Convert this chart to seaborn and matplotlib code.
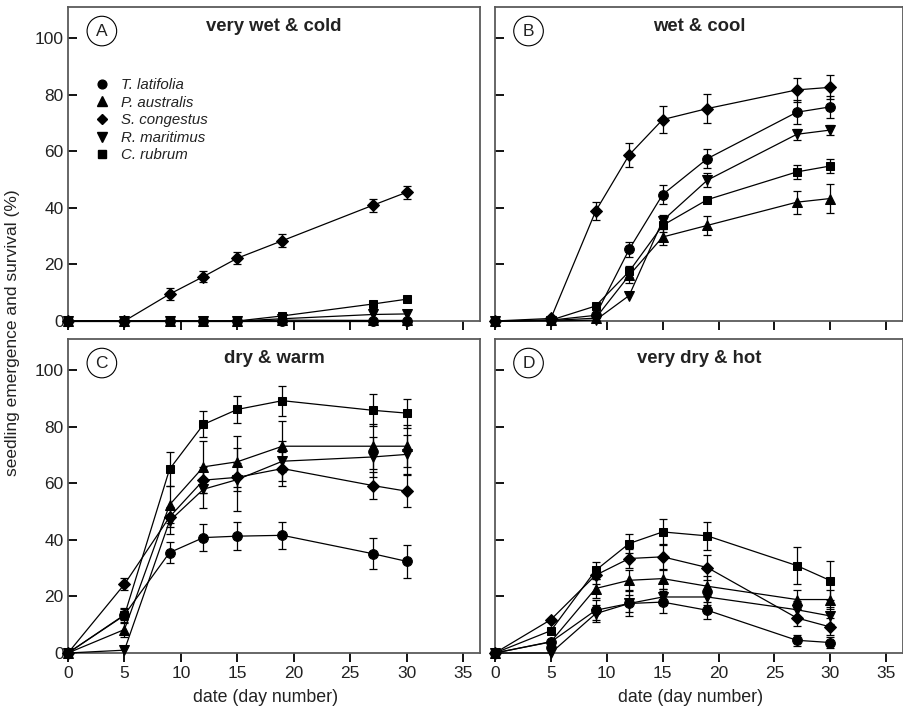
import numpy as np
import pandas as pd
import matplotlib
matplotlib.use("Agg")
import matplotlib.pyplot as plt
import seaborn as sns
from matplotlib import font_manager
from matplotlib.lines import Line2D

sns.set_theme(style="white")
plt.rcParams['font.family'] = ['Liberation Sans', 'DejaVu Sans']

names = {f.name for f in font_manager.fontManager.ttflist}
TICK_FONT = 'Liberation Sans Narrow' if 'Liberation Sans Narrow' in names else 'Liberation Sans'

# ---------------- data ----------------
days = [0, 5, 9, 12, 15, 19, 27, 30]
species = ["T. latifolia", "P. australis", "S. congestus", "R. maritimus", "C. rubrum"]
panel_letters = ["A", "B", "C", "D"]
panel_titles = ["very wet & cold", "wet & cool", "dry & warm", "very dry & hot"]
x_ticks = [0, 5, 10, 15, 20, 25, 30, 35]
y_ticks = [0, 20, 40, 60, 80, 100]

# panel A: very wet & cold
A_latifolia = [0, 0, 0, 0, 0, 0, 0, 0]
A_australis = [0, 0, 0, 0, 0, 0.3, 0.2, 0.2]
A_congestus = [0, 0, 9.5, 15.7, 22.2, 28.4, 40.9, 45.5]
A_maritimus = [0, 0, 0, 0, 0, 0.8, 2.3, 2.5]
A_rubrum = [0, 0, 0, 0, 0, 1.8, 6.0, 7.7]
A_latifolia_err = [0, 0, 0, 0, 0, 0, 0, 0]
A_australis_err = [0, 0, 0, 0, 0, 0, 0, 0]
A_congestus_err = [0, 0, 2.0, 2.0, 2.2, 2.3, 2.4, 2.3]
A_maritimus_err = [0, 0, 0, 0, 0, 0, 0, 0]
A_rubrum_err = [0, 0, 0, 0, 0, 0, 0.6, 0.6]

# panel B: wet & cool
B_latifolia = [0, 0.3, 2.0, 25.3, 44.7, 57.4, 73.8, 75.7]
B_australis = [0, 0.2, 1.0, 16.1, 29.7, 33.8, 42.0, 43.3]
B_congestus = [0, 0.9, 38.8, 58.7, 71.2, 75.1, 81.7, 82.6]
B_maritimus = [0, 0, 0.3, 9.0, 35.5, 49.8, 66.0, 67.5]
B_rubrum = [0, 0.3, 5.3, 17.5, 33.8, 42.9, 52.7, 54.8]
B_latifolia_err = [0, 0, 0, 2.8, 3.5, 3.3, 4.3, 4.0]
B_australis_err = [0, 0, 0, 2.5, 2.8, 3.3, 4.0, 5.1]
B_congestus_err = [0, 0, 3.1, 4.3, 4.8, 5.1, 4.3, 4.2]
B_maritimus_err = [0, 0, 0, 0, 1.9, 2.5, 2.0, 1.7]
B_rubrum_err = [0, 0, 0, 2.0, 2.5, 0, 2.5, 2.4]

# panel C: dry & warm
C_latifolia = [0, 13.5, 35.5, 40.8, 41.3, 41.6, 35.1, 32.4]
C_australis = [0, 8.3, 52.4, 65.8, 67.6, 73.1, 73.1, 73.1]
C_congestus = [0, 24.3, 48.1, 61.1, 62.1, 65.2, 59.2, 57.2]
C_maritimus = [0, 1.0, 46.7, 57.9, 61.3, 67.8, 69.3, 70.2]
C_rubrum = [0, 13.3, 65.0, 80.8, 86.1, 89.2, 85.8, 84.8]
C_latifolia_err = [0, 2.0, 3.8, 4.7, 5.0, 4.7, 5.4, 5.8]
C_australis_err = [0, 2.8, 6.5, 9.2, 9.0, 9.0, 8.0, 7.5]
C_congestus_err = [0, 2.1, 3.5, 4.5, 5.0, 6.0, 4.9, 5.6]
C_maritimus_err = [0, 0, 4.5, 6.8, 11.0, 7.0, 7.0, 7.0]
C_rubrum_err = [0, 2.6, 6.1, 4.6, 4.9, 5.3, 5.6, 5.1]

# panel D: very dry & hot
D_latifolia = [0, 3.9, 15.1, 17.5, 18.0, 15.1, 4.5, 3.7]
D_australis = [0, 4.0, 22.8, 25.7, 26.3, 23.6, 18.9, 18.9]
D_congestus = [0, 11.8, 27.5, 33.4, 34.0, 30.2, 12.4, 9.2]
D_maritimus = [0, 0, 13.9, 17.5, 19.8, 19.8, 15.3, 13.1]
D_rubrum = [0, 7.9, 29.2, 38.7, 42.8, 41.4, 30.9, 25.6]
D_latifolia_err = [0, 0, 3.5, 4.5, 4.0, 3.0, 2.0, 2.0]
D_australis_err = [0, 0, 3.5, 3.5, 3.5, 3.5, 3.5, 3.5]
D_congestus_err = [0, 0, 3.0, 3.5, 4.5, 4.5, 3.0, 3.0]
D_maritimus_err = [0, 0, 3.0, 3.0, 3.0, 3.0, 3.0, 3.0]
D_rubrum_err = [0, 0, 3.0, 3.5, 4.7, 5.0, 6.5, 7.0]

panels = {
    "A": ([A_latifolia, A_australis, A_congestus, A_maritimus, A_rubrum],
          [A_latifolia_err, A_australis_err, A_congestus_err, A_maritimus_err, A_rubrum_err]),
    "B": ([B_latifolia, B_australis, B_congestus, B_maritimus, B_rubrum],
          [B_latifolia_err, B_australis_err, B_congestus_err, B_maritimus_err, B_rubrum_err]),
    "C": ([C_latifolia, C_australis, C_congestus, C_maritimus, C_rubrum],
          [C_latifolia_err, C_australis_err, C_congestus_err, C_maritimus_err, C_rubrum_err]),
    "D": ([D_latifolia, D_australis, D_congestus, D_maritimus, D_rubrum],
          [D_latifolia_err, D_australis_err, D_congestus_err, D_maritimus_err, D_rubrum_err]),
}

markers = {"T. latifolia": "o", "P. australis": "^", "S. congestus": "D",
           "R. maritimus": "v", "C. rubrum": "s"}
msizes = {"T. latifolia": 7, "P. australis": 7.5, "S. congestus": 6, "R. maritimus": 7.5, "C. rubrum": 6.2}

# ---------------- figure ----------------
W, H = 904, 710
fig = plt.figure(figsize=(W / 100, H / 100), dpi=100)
fig.patch.set_facecolor("white")

def frac(l, t, r, b):
    return [l / W, 1 - b / H, (r - l) / W, (b - t) / H]

positions = {
    "A": frac(68, 7, 480, 321),
    "B": frac(495, 7, 903, 321),
    "C": frac(68, 339, 480, 653),
    "D": frac(495, 339, 903, 653),
}

spine_col = "#5a5a5a"

for i, key in enumerate(panel_letters):
    ax = fig.add_axes(positions[key])
    vals, errs = panels[key]
    rows = []
    for sp, v in zip(species, vals):
        for d, y in zip(days, v):
            rows.append({"day": d, "value": y, "species": sp})
    df = pd.DataFrame(rows)

    # error bars first (below markers)
    for sp, v, e in zip(species, vals, errs):
        v = np.array(v, float); e = np.array(e, float); d = np.array(days, float)
        m = e > 0
        if m.any():
            ax.errorbar(d[m], v[m], yerr=e[m], fmt="none", ecolor="black",
                        elinewidth=0.9, capsize=3.2, capthick=0.9, zorder=2)

    for sp in species:
        sub = df[df.species == sp]
        sns.lineplot(data=sub, x="day", y="value", ax=ax, color="black",
                     marker=markers[sp], markersize=msizes[sp], linewidth=0.9,
                     markeredgecolor="black", markerfacecolor="black",
                     estimator=None, sort=False, legend=False, zorder=3)

    for ln in ax.lines:
        ln.set_clip_on(False)
    for c in ax.collections:
        c.set_clip_on(False)

    ax.set_xlim(0, 36.5)
    ax.set_ylim(0, 111)
    ax.set_xticks(x_ticks)
    ax.set_yticks(y_ticks)
    ax.set_xlabel("")
    ax.set_ylabel("")
    ax.tick_params(axis="y", direction="in", length=6.5, width=1.3, color="black",
                   left=True, labelsize=12.5, pad=3)
    ax.tick_params(axis="x", direction="out", length=6.5, width=1.3, color="black",
                   bottom=True, labelsize=12.5, pad=3)
    for lab in ax.get_xticklabels() + ax.get_yticklabels():
        lab.set_fontfamily(TICK_FONT)
        lab.set_color("#222222")
    if key in ("A", "B"):
        ax.tick_params(axis="x", labelbottom=False)
    if key in ("B", "D"):
        ax.tick_params(axis="y", labelleft=False)
    for s in ax.spines.values():
        s.set_color(spine_col)
        s.set_linewidth(1.3)
        s.set_visible(True)
    ax.set_facecolor("white")
    ax.grid(False)

    ax.text(0.5, 0.937, panel_titles[i], transform=ax.transAxes, ha="center",
            va="center", fontsize=13.3, fontweight="bold", color="#222222")
    ax.text(3.0, 102.5, key, ha="center", va="center", fontsize=12.5, color="#222222",
            bbox=dict(boxstyle="circle,pad=0.42", fc="white", ec="black", lw=0.8))

    if key in ("C", "D"):
        ax.text(17.5, -0.115, "date (day number)", transform=ax.get_xaxis_transform(),
                ha="center", va="top", fontsize=12.8, color="#222222")

    if key == "A":
        handles = [Line2D([], [], linestyle="none", marker=markers[sp], color="black",
                          markersize=msizes[sp] * 0.9) for sp in species]
        leg = ax.legend(handles, species, loc="upper left", bbox_to_anchor=(0.064, 0.774),
                        frameon=False, handlelength=1.0, handletextpad=0.75,
                        labelspacing=0.24, borderaxespad=0, borderpad=0,
                        prop={"size": 10.8, "style": "italic", "family": "Liberation Sans"})
        for t in leg.get_texts():
            t.set_color("#222222")

fig.text(0.014, 0.531, "seedling emergence and survival (%)", rotation=90,
         ha="center", va="center", fontsize=12.5, color="#222222")

fig.savefig("out.png", dpi=100, facecolor="white")
